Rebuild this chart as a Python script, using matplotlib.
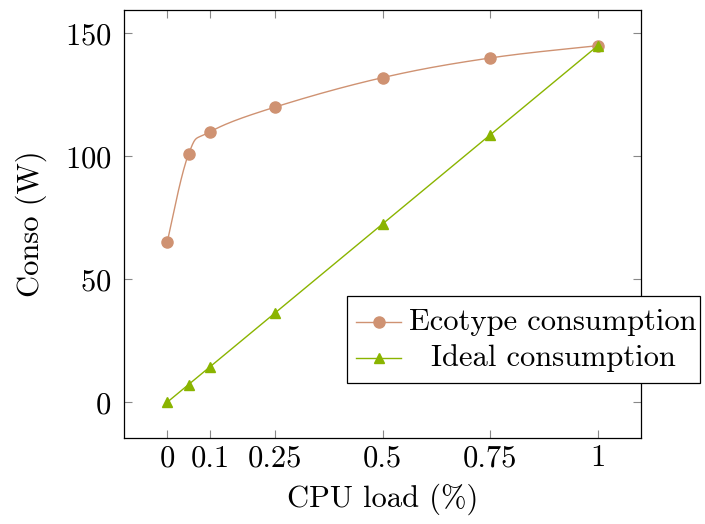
import numpy as np
import matplotlib
matplotlib.use('Agg')
import matplotlib.pyplot as plt
from matplotlib.patches import Rectangle
from matplotlib.lines import Line2D

# 数据
cpu_load = [0, 0.05, 0.1, 0.25, 0.5, 0.75, 1]
ecotype = [65, 101, 110, 120, 132, 140, 145]
ideal = [0, 7.25, 14.5, 36.25, 72.5, 108.75, 145]
xticks = [0, 0.1, 0.25, 0.5, 0.75, 1]
xtick_labels = ['0', '0.1', '0.25', '0.5', '0.75', '1']
yticks = [0, 50, 100, 150]
labels = ['Ecotype consumption', 'Ideal consumption']

plt.rcParams['font.family'] = ['cmr10']
plt.rcParams['axes.formatter.use_mathtext'] = True

fs = 22
c_eco = '#CF9272'
c_ideal = '#8AB400'


# pgfplots 风格的平滑曲线（只用于画线，点本身来自数据）
def smooth(xs, ys, tension=0.55, n=30):
    xs = np.asarray(xs, float)
    ys = np.asarray(ys, float)
    px, py = [], []
    for i in range(len(xs) - 1):
        p0 = np.array([xs[i], ys[i]])
        p3 = np.array([xs[i + 1], ys[i + 1]])
        prev = np.array([xs[max(i - 1, 0)], ys[max(i - 1, 0)]])
        nxt = np.array([xs[min(i + 2, len(xs) - 1)], ys[min(i + 2, len(xs) - 1)]])
        p1 = p0 + (p3 - prev) * tension / 3
        p2 = p3 - (nxt - p0) * tension / 3
        t = np.linspace(0, 1, n)[:, None]
        b = (1 - t) ** 3 * p0 + 3 * (1 - t) ** 2 * t * p1 + 3 * (1 - t) * t ** 2 * p2 + t ** 3 * p3
        px.extend(b[:, 0])
        py.extend(b[:, 1])
    return px, py


fig = plt.figure(figsize=(7.05, 5.24), dpi=100)
ax = fig.add_axes([124 / 705, 1 - 438 / 524, 517 / 705, 428 / 524])

sx, sy = smooth(cpu_load, ecotype)
ax.plot(sx, sy, color=c_eco, lw=1.0)
ax.plot(cpu_load, ecotype, 'o', color=c_eco, ms=8)
ax.plot(cpu_load, ideal, '-^', color=c_ideal, lw=1.0, ms=7)

ax.set_xlim(-0.1, 1.1)
ax.set_ylim(-14.5, 159.5)
ax.set_xticks(xticks)
ax.set_xticklabels(xtick_labels)
ax.set_yticks(yticks)
ax.tick_params(direction='in', top=True, right=True, length=6, width=0.8,
               color='#888888', labelsize=fs)
ax.tick_params(axis='x', pad=5)
ax.tick_params(axis='y', pad=9)
for s in ax.spines.values():
    s.set_linewidth(0.9)

ax.set_xlabel('CPU load (%)', fontsize=fs, labelpad=8)
ax.set_ylabel('Conso (W)', fontsize=fs, labelpad=13)

# 图例（手动画，文字居中，超出坐标轴右边）
tf = fig.transFigure
def fx(x):
    return x / 705
def fy(y):
    return 1 - y / 524

fig.patches.append(Rectangle((fx(347), fy(383)), fx(700) - fx(347), fy(296) - fy(383),
                             transform=tf, facecolor='white', edgecolor='black',
                             lw=0.9, zorder=5))
rows = [(322, c_eco, 'o', 8), (358, c_ideal, '^', 7)]
for (y, c, m, ms), lab in zip(rows, labels):
    fig.lines.append(Line2D([fx(356), fx(401)], [fy(y), fy(y)], transform=tf,
                            color=c, lw=1.0, zorder=6))
    fig.lines.append(Line2D([fx(378.5)], [fy(y)], transform=tf, marker=m,
                            color=c, ms=ms, zorder=6))
    fig.text(fx(553), fy(y), lab, ha='center', va='center', fontsize=fs, zorder=7)

plt.savefig('out.png', dpi=100)
